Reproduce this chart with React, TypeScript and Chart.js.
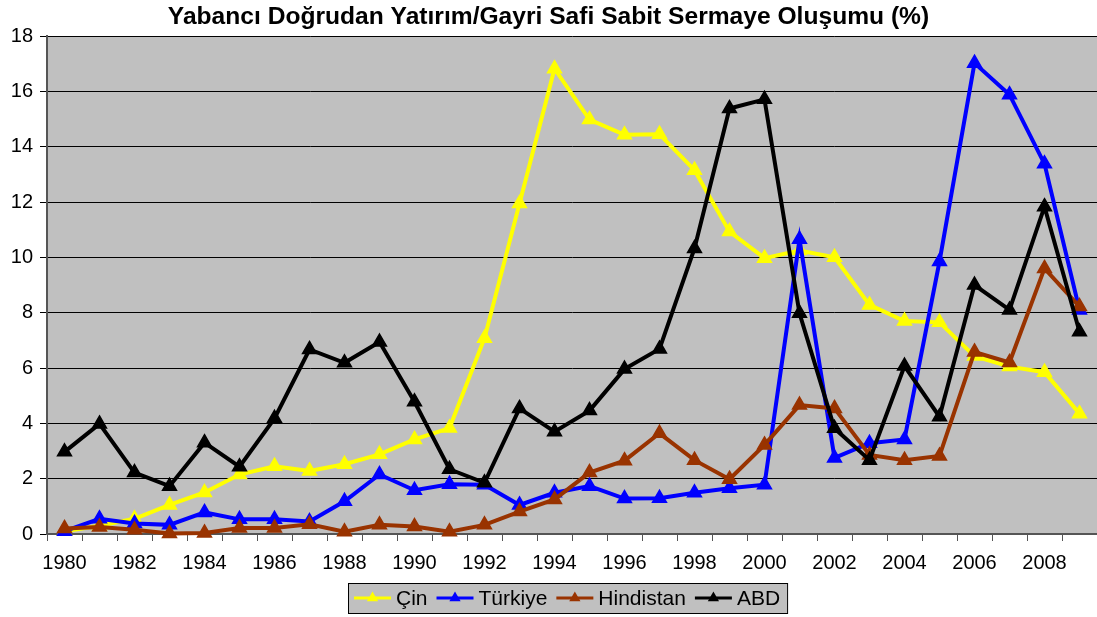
import React, { useEffect, useRef } from "react";
import { Chart, registerables } from "chart.js";

Chart.register(...registerables);

const years = [
  "1980", "1981", "1982", "1983", "1984", "1985", "1986", "1987", "1988", "1989",
  "1990", "1991", "1992", "1993", "1994", "1995", "1996", "1997", "1998", "1999",
  "2000", "2001", "2002", "2003", "2004", "2005", "2006", "2007", "2008", "2009",
];

const cin = [0.1, 0.3, 0.55, 1.05, 1.5, 2.15, 2.45, 2.28, 2.52, 2.88, 3.42, 3.83, 7.08, 11.95, 16.82, 14.98, 14.43, 14.45, 13.15, 10.93, 9.97, 10.25, 10.0, 8.28, 7.7, 7.65, 6.43, 6.05, 5.85, 4.35];
const turkiye = [0.1, 0.55, 0.38, 0.33, 0.78, 0.53, 0.53, 0.45, 1.18, 2.15, 1.58, 1.8, 1.78, 1.05, 1.49, 1.73, 1.28, 1.29, 1.49, 1.65, 1.78, 10.65, 2.75, 3.28, 3.42, 9.85, 17.02, 15.88, 13.38, 8.1];
const hindistan = [0.2, 0.25, 0.15, 0.02, 0.04, 0.22, 0.22, 0.35, 0.08, 0.33, 0.27, 0.08, 0.33, 0.81, 1.25, 2.22, 2.65, 3.64, 2.67, 1.98, 3.22, 4.66, 4.54, 2.86, 2.67, 2.82, 6.58, 6.2, 9.6, 8.22];
const abd = [2.97, 3.98, 2.22, 1.73, 3.3, 2.43, 4.18, 6.67, 6.19, 6.94, 4.78, 2.34, 1.85, 4.54, 3.7, 4.46, 5.96, 6.69, 10.32, 15.38, 15.71, 7.98, 3.82, 2.67, 6.07, 4.24, 9.0, 8.1, 11.83, 7.31];

const seriesNames = ["Çin", "Türkiye", "Hindistan", "ABD"];
const seriesColors = ["#ffff00", "#0000ff", "#993300", "#000000"];
const titleText = "Yabancı Doğrudan Yatırım/Gayri Safi Sabit Sermaye Oluşumu (%)";

const FONT = "Arial, 'Liberation Sans', sans-serif";

const bgPlugin = {
  id: "plotBg",
  beforeDraw(chart: any) {
    const { ctx, chartArea } = chart;
    ctx.save();
    ctx.fillStyle = "#c0c0c0";
    ctx.fillRect(chartArea.left, chartArea.top, chartArea.right - chartArea.left, chartArea.bottom - chartArea.top);
    ctx.restore();
  },
};

const legendPlugin = {
  id: "boxLegend",
  afterDraw(chart: any) {
    const ctx = chart.ctx;
    ctx.save();
    ctx.font = `21px ${FONT}`;
    const lineW = 37;
    const gapText = 5;
    const gapItem = 9;
    const padL = 6;
    const padR = 7;
    const widths = seriesNames.map((n) => ctx.measureText(n).width);
    let total = padL + padR;
    widths.forEach((w, i) => {
      total += lineW + gapText + w + (i < widths.length - 1 ? gapItem : 0);
    });
    const cx = 568;
    const top = 583;
    const h = 30;
    const left = Math.round(cx - total / 2);
    ctx.fillStyle = "#c0c0c0";
    ctx.fillRect(left, top, total, h);
    ctx.strokeStyle = "#000";
    ctx.lineWidth = 1;
    ctx.strokeRect(left + 0.5, top + 0.5, total, h);
    let x = left + padL;
    const cy = top + h / 2;
    seriesNames.forEach((n, i) => {
      ctx.strokeStyle = seriesColors[i];
      ctx.lineWidth = 3;
      ctx.beginPath();
      ctx.moveTo(x, cy);
      ctx.lineTo(x + lineW, cy);
      ctx.stroke();
      const r = 6.5;
      const mx = x + lineW / 2;
      ctx.fillStyle = seriesColors[i];
      ctx.beginPath();
      ctx.moveTo(mx, cy - r);
      ctx.lineTo(mx + r * 0.866, cy + r * 0.5);
      ctx.lineTo(mx - r * 0.866, cy + r * 0.5);
      ctx.closePath();
      ctx.fill();
      x += lineW + gapText;
      ctx.fillStyle = "#000";
      ctx.textBaseline = "middle";
      ctx.textAlign = "left";
      ctx.fillText(n, x, cy + 1);
      x += widths[i] + gapItem;
    });
    ctx.restore();
  },
};

export default function App() {
  const ref = useRef<HTMLCanvasElement | null>(null);
  useEffect(() => {
    if (!ref.current) return;
    const all = [cin, turkiye, hindistan, abd];
    const chart = new Chart(ref.current, {
      type: "line",
      data: {
        labels: years,
        datasets: all.map((d, i) => ({
          label: seriesNames[i],
          data: d,
          borderColor: seriesColors[i],
          backgroundColor: seriesColors[i],
          borderWidth: 4,
          pointStyle: "triangle",
          pointRadius: 8,
          pointBorderWidth: 1.5,
          pointBorderColor: seriesColors[i],
          pointBackgroundColor: seriesColors[i],
          tension: 0,
          fill: false,
          clip: false,
          order: 3 - i,
        })),
      },
      options: {
        responsive: false,
        animation: false,
        layout: { padding: 0, autoPadding: false },
        plugins: {
          legend: { display: false },
          tooltip: { enabled: false },
          title: {
            display: true,
            text: titleText,
            color: "#000",
            font: { family: FONT, size: 24.6, weight: "bold", lineHeight: 1.2 },
            padding: { top: 2.5, bottom: 4 },
          },
        },
        scales: {
          x: {
            type: "category",
            offset: true,
            afterFit(scale: any) {
              scale.height = 83;
            },
            grid: {
              display: true,
              offset: true,
              drawOnChartArea: false,
              drawTicks: true,
              tickLength: 7,
              color: "#555",
            },
            border: { display: true, color: "#555", width: 2 },
            ticks: {
              autoSkip: false,
              maxRotation: 0,
              minRotation: 0,
              padding: 10,
              color: "#000",
              font: { family: FONT, size: 20 },
              callback: (_v: any, idx: number) => (idx % 2 === 0 ? years[idx] : ""),
            },
          },
          y: {
            min: 0,
            max: 18,
            afterFit(scale: any) {
              scale.width = 47;
            },
            grid: { color: "#000", lineWidth: 1, drawTicks: true, tickLength: 7 },
            border: { display: true, color: "#555", width: 2 },
            ticks: {
              stepSize: 2,
              padding: 7,
              color: "#000",
              font: { family: FONT, size: 20 },
            },
          },
        },
      },
      plugins: [bgPlugin, legendPlugin],
    });
    return () => chart.destroy();
  }, []);
  return (
    <div style={{ position: "fixed", left: 0, top: 0, width: 1097, height: 617, background: "#fff" }}>
      <canvas ref={ref} width={1097} height={617} style={{ display: "block" }} />
    </div>
  );
}
